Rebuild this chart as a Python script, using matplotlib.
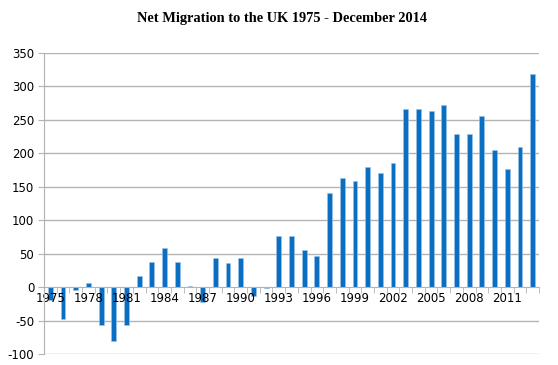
import matplotlib.pyplot as plt
import numpy as np

plt.rcParams['axes.unicode_minus'] = False

# Net migration (thousands), one bar per year
years = list(range(1975, 2014))
net_migration = [-20, -47, -5, 6, -56, -80, -57, 17, 37, 58,
                 37, 1, -22, 44, 36, 44, -14, -1, 77, 76,
                 55, 47, 140, 163, 158, 179, 171, 185, 267, 266,
                 264, 272, 229, 229, 256, 205, 177, 209, 318]
year_labels = [str(y) for y in years[::3]]
y_ticks = list(range(-100, 351, 50))

bar_color = "#0A6FC2"
grid_color = "#B3B3B3"

fig = plt.figure(figsize=(5.58, 3.65), dpi=100)
ax = fig.add_axes([44 / 558, 11 / 365, (539 - 44) / 558, (354 - 53) / 365])

x = np.arange(len(years))
ax.bar(x, net_migration, width=0.38, color=bar_color,
       edgecolor="#9CC3E6", linewidth=0.4, zorder=1)

# horizontal gridlines behind the bars
for v in y_ticks:
    if v != 0:
        ax.axhline(v, color=grid_color, linewidth=1, zorder=0)

ax.set_xlim(-0.5, len(years) - 0.5)
ax.set_ylim(-100, 350)
ax.set_yticks(y_ticks)
ax.tick_params(axis="y", length=4, color=grid_color, labelsize=8.5,
               pad=3, labelcolor="black")

# x axis sits on zero
ax.spines["bottom"].set_position(("data", 0))
ax.spines["bottom"].set_color(grid_color)
ax.spines["left"].set_color(grid_color)
ax.spines["top"].set_visible(False)
ax.spines["right"].set_visible(False)

ax.set_xticks(x[::3])
ax.set_xticklabels(year_labels)
ax.set_xticks(np.arange(-0.5, len(years), 1), minor=True)
ax.tick_params(axis="x", which="major", length=0, pad=3.5, labelsize=8.5)
ax.tick_params(axis="x", which="minor", length=4, color=grid_color)

fig.text(0.506, 0.948, "Net Migration to the UK 1975 - December 2014",
         ha="center", va="center", fontsize=10.4, fontweight="bold",
         family="Liberation Serif")

fig.savefig("out.png", dpi=100)
